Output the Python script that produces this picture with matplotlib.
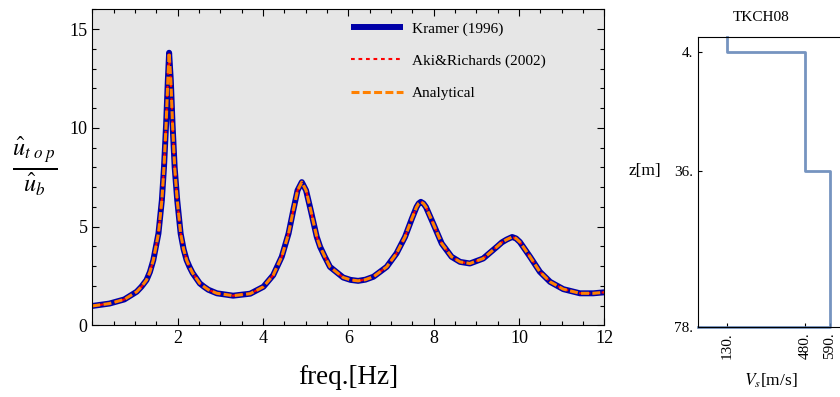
import matplotlib
matplotlib.use('Agg')
import matplotlib.pyplot as plt
from matplotlib.ticker import MultipleLocator

plt.rcParams['font.family'] = ['Liberation Serif', 'DejaVu Serif']
plt.rcParams['mathtext.fontset'] = 'stix'

# transfer function (all three methods coincide)
freq = [0.0, 0.4, 0.75, 1.04, 1.15, 1.27, 1.35, 1.43, 1.55, 1.63, 1.68, 1.73,
        1.77, 1.80, 1.84, 1.88, 1.93, 1.99, 2.07, 2.14, 2.21, 2.28, 2.35, 2.52,
        2.62, 2.72, 2.92, 3.30, 3.70, 4.01, 4.24, 4.44, 4.60, 4.71, 4.81, 4.91,
        5.01, 5.12, 5.26, 5.34, 5.45, 5.57, 5.73, 5.88, 6.05, 6.23, 6.40, 6.59,
        6.90, 7.13, 7.33, 7.49, 7.60, 7.65, 7.70, 7.76, 7.82, 7.99, 8.19, 8.42,
        8.62, 8.85, 9.16, 9.48, 9.60, 9.71, 9.84, 9.93, 10.02, 10.26, 10.49,
        10.73, 11.04, 11.43, 11.74, 12.0]
amp = [0.98, 1.10, 1.31, 1.70, 1.95, 2.29, 2.70, 3.30, 4.65, 6.33, 8.0, 10.2,
       12.4, 13.8, 12.4, 10.2, 8.0, 6.33, 4.65, 3.85, 3.30, 2.95, 2.65, 2.12,
       1.95, 1.80, 1.62, 1.50, 1.60, 1.95, 2.54, 3.47, 4.65, 5.82, 6.83, 7.25,
       6.83, 5.82, 4.48, 3.97, 3.47, 2.96, 2.68, 2.42, 2.30, 2.25, 2.31, 2.46,
       2.96, 3.64, 4.48, 5.40, 5.99, 6.17, 6.25, 6.17, 5.99, 5.15, 4.14, 3.47,
       3.21, 3.13, 3.38, 3.97, 4.20, 4.34, 4.47, 4.40, 4.22, 3.47, 2.71,
       2.20, 1.83, 1.62, 1.62, 1.67]
kramer = amp
aki_richards = amp
analytical = amp

# soil profile TKCH08
layer_top = [0, 4, 36]
layer_bot = [4, 36, 78]
vs = [130, 480, 590]

fig = plt.figure(figsize=(8.4, 3.97), dpi=100)

ax = fig.add_axes([0.1099, 0.1806, 0.6095, 0.796])
ax.set_facecolor('#e6e6e6')
ax.plot(freq, kramer, color='#0000a8', lw=4.3, solid_capstyle='butt',
        label='Kramer (1996)')
ax.plot(freq, aki_richards, color='red', lw=1.5, dashes=(1.8, 1.8),
        label='Aki&Richards (2002)')
ax.plot(freq, analytical, color='#ff8000', lw=2.2, dashes=(2.6, 1.1),
        label='Analytical')
ax.set_xlim(0, 12)
ax.set_ylim(0, 16)
ax.set_xticks([2, 4, 6, 8, 10, 12])
ax.set_yticks([0, 5, 10, 15])
ax.xaxis.set_minor_locator(MultipleLocator(0.5))
ax.yaxis.set_minor_locator(MultipleLocator(1))
ax.tick_params(which='both', direction='in', top=True, right=True, labelsize=13,
               width=0.8, colors='black')
ax.tick_params(which='major', length=5)
ax.tick_params(which='minor', length=2.7)
ax.set_xlabel('freq.[Hz]', fontsize=19.5, labelpad=13)
fig.text(0.041, 0.58, r'$\frac{\hat{u}_{t\ o\ p}}{\hat{u}_b}$', fontsize=25,
         ha='center', va='center')

leg = ax.legend(loc='upper left', bbox_to_anchor=(0.505, 0.96), frameon=False,
                fontsize=11, handlelength=3.4, handletextpad=0.6,
                labelspacing=1.2, borderpad=0, borderaxespad=0)

# right panel
ax2 = fig.add_axes([0.8313, 0.176, 0.1728, 0.7305])
px = []
py = []
for v, t, b in zip(vs, layer_top, layer_bot):
    px += [v, v]
    py += [t, b]
px.append(0)
py.append(layer_bot[-1])
ax2.plot(px, py, color='#5e81b5', lw=2, alpha=0.85, clip_on=False)
ax2.set_xlim(0, 650)
ax2.set_ylim(78, 0)
ax2.set_xticks(vs)
ax2.set_xticklabels([f'{v}.' for v in vs], rotation=90)
ax2.set_yticks(layer_top[1:] + [layer_bot[-1]])
ax2.set_yticklabels([f'{d}.' for d in layer_top[1:] + [layer_bot[-1]]])
ax2.tick_params(direction='in', length=3, labelsize=11, width=0.8)
ax2.set_xlabel('$V_s$[m/s]', fontsize=12.5, labelpad=9)
fig.text(0.768, 0.57, 'z[m]', fontsize=12.5, ha='center', va='center')
fig.text(0.9065, 0.955, 'TKCH08', fontsize=11, ha='center', va='center')

fig.savefig('out.png', dpi=100)
